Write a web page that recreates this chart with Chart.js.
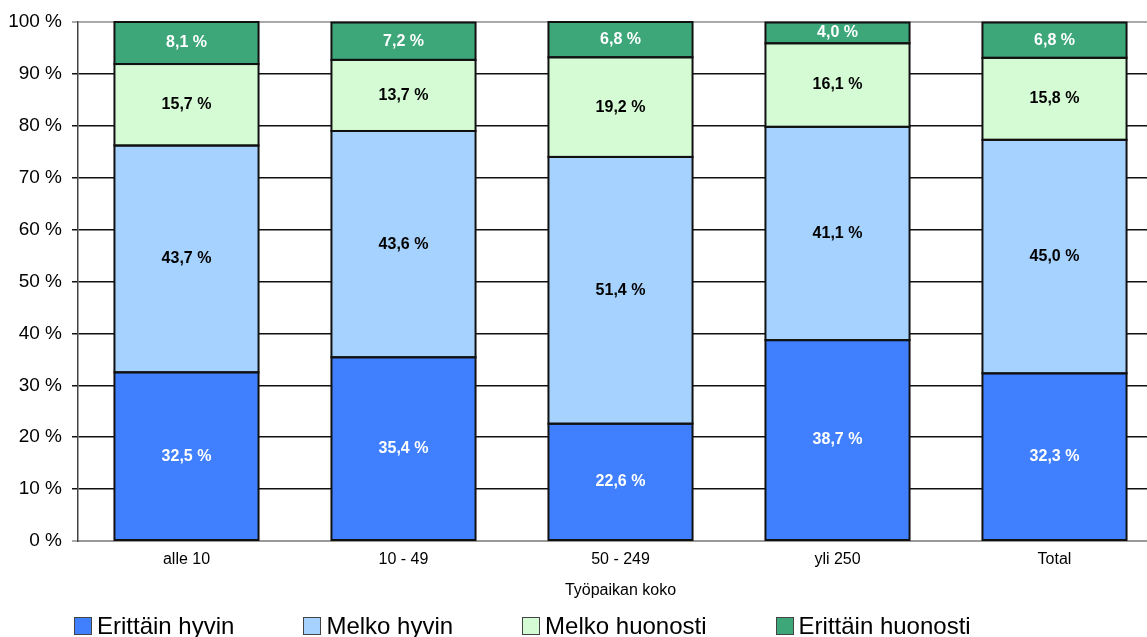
<meta charset="utf-8">
<style>
body {
  margin: 0;
  background: white;
  overflow: hidden;
}
.chart-wrap {
  position: relative;
  width: 1163px;
  height: 637px;
}
.legend {
  position: absolute;
  left: 74px;
  top: 612px;
  display: flex;
  gap: 69px;
  font-family: "Liberation Sans", Arial, sans-serif;
  font-size: 24px;
  color: #000;
}
.legend-item {
  display: flex;
  align-items: center;
  height: 28px;
  white-space: nowrap;
}
.legend-box {
  width: 16px;
  height: 16px;
  border: 1px solid #444;
  margin-right: 5px;
}
</style>

<script src="https://cdn.jsdelivr.net/npm/chart.js"></script>

<div class="chart-wrap">
  <canvas id="kokoChart"></canvas>
  <div class="legend" id="legend"></div>
</div>

<script>
// työpaikan koko -luokat
const categories = ['alle 10', '10 - 49', '50 - 249', 'yli 250', 'Total'];

const erittainHyvin = [32.5, 35.4, 22.6, 38.7, 32.3];
const melkoHyvin = [43.7, 43.6, 51.4, 41.1, 45.0];
const melkoHuonosti = [15.7, 13.7, 19.2, 16.1, 15.8];
const erittainHuonosti = [8.1, 7.2, 6.8, 4.0, 6.8];

const seriesNames = ['Erittäin hyvin', 'Melko hyvin', 'Melko huonosti', 'Erittäin huonosti'];
const seriesColors = ['#4080ff', '#a6d2ff', '#d5fbd5', '#3da77a'];
const labelColors = ['#ffffff', '#000000', '#000000', '#ffffff'];

const FONT = '"Liberation Sans", Arial, sans-serif';

function fmtPct(v) {
  return v.toFixed(1).replace('.', ',') + ' %';
}

// ääriviivat palkkien ympärille + arvot keskelle
const valueLabels = {
  id: 'valueLabels',
  afterDatasetsDraw(chart) {
    const ctx = chart.ctx;
    ctx.save();
    ctx.strokeStyle = '#111';
    ctx.lineWidth = 2;
    chart.data.datasets.forEach((ds, i) => {
      chart.getDatasetMeta(i).data.forEach(bar => {
        const p = bar.getProps(['x', 'y', 'base', 'width'], true);
        ctx.strokeRect(p.x - p.width / 2, p.y, p.width, p.base - p.y);
      });
    });
    ctx.font = 'bold 16px ' + FONT;
    ctx.textAlign = 'center';
    ctx.textBaseline = 'middle';
    chart.data.datasets.forEach((ds, i) => {
      const meta = chart.getDatasetMeta(i);
      meta.data.forEach((bar, j) => {
        const p = bar.getProps(['x', 'y', 'base'], true);
        ctx.fillStyle = labelColors[i];
        ctx.fillText(fmtPct(ds.data[j]), p.x, (p.y + p.base) / 2);
      });
    });
    ctx.restore();
  }
};

const datasets = [erittainHyvin, melkoHyvin, melkoHuonosti, erittainHuonosti].map((values, i) => ({
  label: seriesNames[i],
  data: values,
  backgroundColor: seriesColors[i],
  borderWidth: 0,
  barPercentage: 0.664,
  categoryPercentage: 1
}));

new Chart(document.getElementById('kokoChart'), {
  type: 'bar',
  data: { labels: categories, datasets },
  plugins: [valueLabels],
  options: {
    responsive: true,
    maintainAspectRatio: false,
    animation: false,
    layout: { padding: { top: 22, right: 0, bottom: 37, left: 0 } },
    plugins: {
      legend: { display: false },
      tooltip: { enabled: false }
    },
    scales: {
      x: {
        stacked: true,
        afterFit(scale) { scale.height = 59; },
        grid: { display: false },
        border: { color: '#999', width: 2 },
        ticks: { color: '#000', font: { family: FONT, size: 16 }, padding: 1 },
        title: {
          display: true,
          text: 'Työpaikan koko',
          color: '#000',
          font: { family: FONT, size: 16 },
          padding: { top: 6, bottom: 0 }
        }
      },
      y: {
        stacked: true,
        min: 0,
        max: 100,
        afterFit(scale) { scale.width = 78; },
        ticks: {
          stepSize: 10,
          color: '#000',
          font: { family: FONT, size: 19 },
          padding: 10,
          callback: v => v + ' %'
        },
        grid: {
          tickLength: 6,
          lineWidth: ctx => (ctx.tick && (ctx.tick.value === 0 || ctx.tick.value === 100)) ? 2 : 1.5,
          color: ctx => (ctx.tick && (ctx.tick.value === 0 || ctx.tick.value === 100)) ? '#aaa' : '#111'
        },
        border: { color: '#444', width: 1.5 }
      }
    }
  }
});

// selite kaavion alle
const legendEl = document.getElementById('legend');
seriesNames.forEach((name, i) => {
  const item = document.createElement('div');
  item.className = 'legend-item';
  const box = document.createElement('span');
  box.className = 'legend-box';
  box.style.background = seriesColors[i];
  item.appendChild(box);
  item.appendChild(document.createTextNode(name));
  legendEl.appendChild(item);
});
</script>
